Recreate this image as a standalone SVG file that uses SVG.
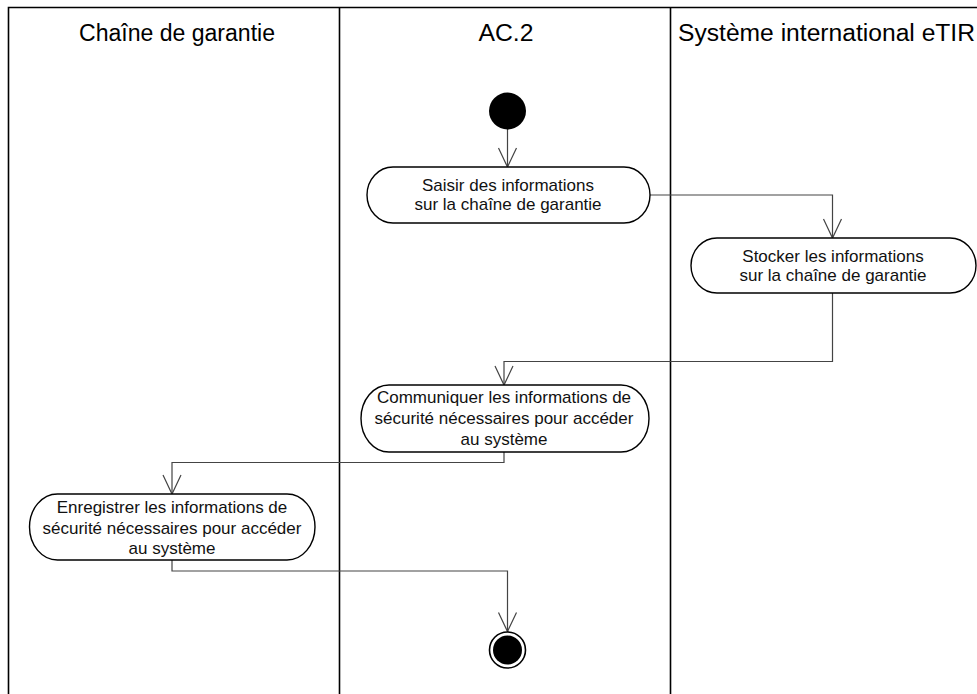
<svg xmlns="http://www.w3.org/2000/svg" width="977" height="694" viewBox="0 0 977 694">
<style>
.lane{stroke:#000;stroke-width:1.6;fill:none}
.hdr{font-family:"Liberation Sans",Arial,sans-serif;font-size:23px;fill:#000}
.act{fill:#fff;stroke:#000;stroke-width:1.4}
.lbl{font-family:"Liberation Sans",Arial,sans-serif;font-size:17px;fill:#111;text-anchor:middle}
.edge{fill:none;stroke:#444;stroke-width:1.2}
</style>
<defs>
<marker id="open" markerUnits="userSpaceOnUse" markerWidth="24" markerHeight="22" viewBox="-21 -11 24 22" refX="0" refY="0" orient="auto">
<path d="M-19,-9 L0,0 L-19,9" fill="none" stroke="#444" stroke-width="1.2"/>
</marker>
</defs>
<g id="lanes">
<path class="lane" d="M8.5,694 V7.5 H977"/>
<path class="lane" d="M339.5,7.5 V694"/>
<path class="lane" d="M670.5,7.5 V694"/>
<text class="hdr" x="177" y="41" text-anchor="middle" textLength="196" lengthAdjust="spacingAndGlyphs">Chaîne de garantie</text>
<text class="hdr" x="506" y="41" text-anchor="middle" textLength="55" lengthAdjust="spacingAndGlyphs">AC.2</text>
<text class="hdr" x="678" y="41" textLength="297" lengthAdjust="spacingAndGlyphs">Système international eTIR</text>
</g>
<g id="connectors">
<path class="edge" d="M507.5,129 V167" marker-end="url(#open)"/>
<path class="edge" d="M650,195 H832.5 V238" marker-end="url(#open)"/>
<path class="edge" d="M832.5,293 V361.5 H504 V385" marker-end="url(#open)"/>
<path class="edge" d="M504,452 V462.5 H172 V494" marker-end="url(#open)"/>
<path class="edge" d="M172,560 V571 H507.5 V631.5" marker-end="url(#open)"/>
</g>
<g id="start">
<circle cx="507.5" cy="111" r="18.5" fill="#000"/>
</g>
<g id="a1">
<rect class="act" x="367" y="167" width="283" height="56" rx="26" ry="28"/>
<text class="lbl" x="508" y="191">Saisir des informations</text>
<text class="lbl" x="508" y="210">sur la chaîne de garantie</text>
</g>
<g id="a2">
<rect class="act" x="691" y="238" width="285" height="55" rx="26" ry="27.5"/>
<text class="lbl" x="833" y="262">Stocker les informations</text>
<text class="lbl" x="833" y="281">sur la chaîne de garantie</text>
</g>
<g id="a3">
<rect class="act" x="361" y="385" width="288" height="67" rx="28" ry="33.5"/>
<text class="lbl" x="504" y="403">Communiquer les informations de</text>
<text class="lbl" x="504" y="424">sécurité nécessaires pour accéder</text>
<text class="lbl" x="504" y="445">au système</text>
</g>
<g id="a4">
<rect class="act" x="29.5" y="494" width="285.5" height="66" rx="28" ry="33"/>
<text class="lbl" x="172" y="512.5">Enregistrer les informations de</text>
<text class="lbl" x="172" y="533.5">sécurité nécessaires pour accéder</text>
<text class="lbl" x="172" y="554">au système</text>
</g>
<g id="end">
<circle cx="507.5" cy="650" r="18" fill="#fff" stroke="#000" stroke-width="1.6"/>
<circle cx="507.5" cy="650" r="14.5" fill="#000"/>
</g>
</svg>
